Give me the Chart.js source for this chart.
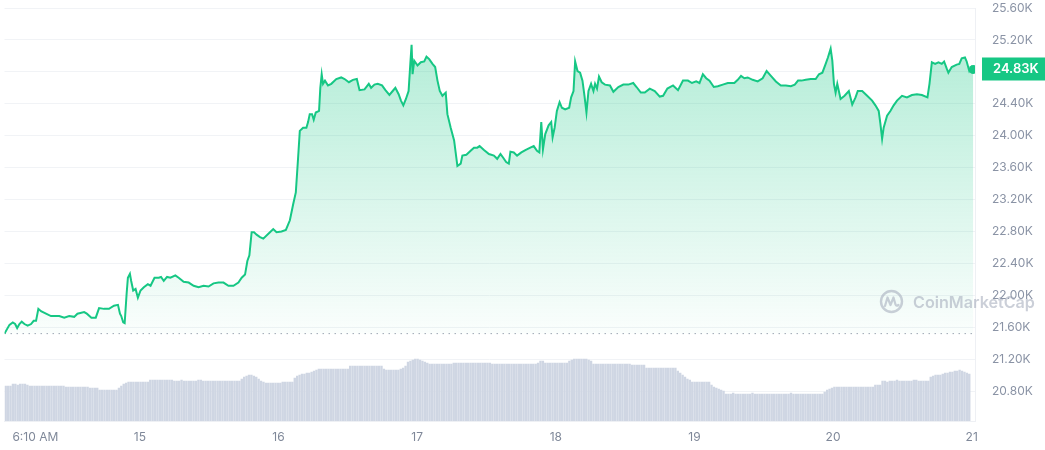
<!DOCTYPE html>
<html><head><meta charset="utf-8">
<script src="https://cdn.jsdelivr.net/npm/chart.js@4.4.1/dist/chart.umd.min.js"></script>
<style>html,body{margin:0;padding:0;background:#fff;}canvas{display:block;}</style>
</head><body>
<canvas id="c" width="1045" height="450"></canvas>
<script>
// Time of each price sample, in hours since the first sample
const hours = [
0,0.86,1.43,1.84,2.19,2.58,2.98,3.45,4.01,4.6,
5.05,5.46,5.86,6.32,7.18,8.05,8.62,9.48,10.34,11.2,
12.06,12.63,13.78,14.25,15.04,15.8,16.37,17.23,18.09,18.95,
19.64,19.99,20.21,20.55,20.8,21.14,21.36,21.71,21.93,22.28,
22.69,23.09,23.55,24.12,24.81,25.28,25.97,26.71,27.1,27.57,
28.14,28.72,29.58,30.15,31.01,31.88,32.74,33.6,34.46,35.32,
36.18,37.04,37.91,38.77,39.63,40.49,41.06,41.64,42.04,42.39,
42.78,43.2,43.64,44.23,44.8,45.95,46.52,47.09,47.95,48.71,
49.4,49.97,50.43,50.83,51.12,51.69,52.26,52.55,52.84,53.24,
53.53,53.88,54.45,54.67,54.91,55.14,55.48,56.0,56.57,57.43,
58.29,58.87,59.62,60.31,60.99,61.46,62.32,63.06,63.46,64.04,
64.61,65.35,65.94,66.63,67.2,67.66,68.23,68.63,69.04,69.49,
69.95,70.25,70.47,70.64,70.93,71.5,72.07,72.66,73.05,73.52,
74.09,74.55,74.95,75.35,75.81,76.38,76.67,77.24,77.83,78.4,
78.97,79.26,79.95,80.69,81.27,81.84,82.24,83.0,83.86,84.72,
85.29,85.86,86.27,86.84,87.3,87.58,88.16,88.73,89.47,90.16,
91.03,91.61,92.18,92.58,92.92,93.21,93.61,94.19,94.64,94.88,
95.23,95.62,96.09,96.49,97.05,97.75,98.09,98.5,98.78,99.19,
99.64,100.05,100.4,100.74,101.09,101.54,101.95,102.23,102.57,102.91,
103.38,103.95,104.81,105.4,106.26,107.12,107.98,108.84,109.41,110.15,
110.84,111.7,112.56,113.43,114.01,114.75,115.73,116.59,117.45,118.31,
119.0,119.74,120.31,120.89,121.47,122.04,122.79,123.48,124.34,125.21,
126.34,126.93,127.5,128.07,128.65,129.51,130.38,131.24,131.93,132.67,
133.53,134.39,135.26,136.12,136.8,137.37,137.96,138.7,139.56,140.42,
140.99,141.58,142.15,142.54,143.01,143.3,143.58,143.87,144.16,144.73,
145.42,146.16,146.75,147.32,147.71,148.47,149.33,150.19,150.76,151.33,
151.62,151.92,152.19,152.78,153.35,153.92,154.5,155.36,156.22,157.08,
157.95,158.81,159.77,160.12,160.53,161.1,161.67,162.25,162.65,163.11,
163.39,163.97,164.83,165.28,165.7,166.26,166.56,167.01,167.42,167.7
];
// Price in thousands of USD
const prices = [
21.52,21.63,21.66,21.64,21.59,21.64,21.67,21.64,21.62,21.64,
21.68,21.68,21.83,21.80,21.77,21.74,21.74,21.74,21.72,21.74,
21.73,21.77,21.79,21.77,21.72,21.72,21.84,21.83,21.83,21.87,
21.88,21.77,21.74,21.66,21.65,22.02,22.22,22.27,22.18,22.06,
22.08,21.97,22.06,22.10,22.14,22.12,22.22,22.22,22.23,22.18,
22.23,22.22,22.25,22.22,22.17,22.16,22.12,22.10,22.12,22.11,
22.15,22.16,22.16,22.12,22.12,22.16,22.22,22.26,22.43,22.50,
22.79,22.79,22.76,22.73,22.71,22.79,22.83,22.79,22.80,22.82,
22.94,23.14,23.29,23.73,24.06,24.10,24.10,24.17,24.27,24.27,
24.20,24.29,24.31,24.60,24.77,24.65,24.69,24.63,24.65,24.71,
24.73,24.71,24.67,24.70,24.71,24.57,24.58,24.65,24.60,24.64,
24.65,24.63,24.57,24.51,24.56,24.60,24.52,24.44,24.38,24.46,
24.56,24.90,25.14,24.77,24.94,24.88,24.92,24.93,24.99,24.96,
24.90,24.86,24.69,24.56,24.50,24.54,24.27,24.10,23.94,23.62,
23.65,23.75,23.76,23.81,23.85,23.85,23.87,23.82,23.77,23.75,
23.71,23.77,23.73,23.67,23.65,23.80,23.79,23.75,23.79,23.82,
23.85,23.87,23.81,23.79,24.17,23.83,24.02,24.13,24.17,23.98,
24.10,24.31,24.42,24.35,24.33,24.35,24.48,24.56,24.93,24.81,
24.79,24.69,24.50,24.29,24.56,24.65,24.56,24.65,24.59,24.74,
24.67,24.64,24.63,24.55,24.61,24.64,24.64,24.66,24.61,24.54,
24.54,24.59,24.56,24.49,24.50,24.59,24.63,24.57,24.69,24.69,
24.66,24.68,24.66,24.77,24.72,24.69,24.61,24.62,24.64,24.66,
24.66,24.70,24.75,24.72,24.73,24.70,24.68,24.72,24.81,24.75,
24.68,24.63,24.63,24.62,24.64,24.69,24.69,24.70,24.71,24.71,
24.77,24.79,24.90,24.98,25.09,24.94,24.65,24.54,24.65,24.46,
24.50,24.56,24.39,24.48,24.56,24.56,24.50,24.44,24.38,24.31,
24.15,23.96,24.10,24.25,24.31,24.38,24.44,24.50,24.48,24.51,
24.52,24.51,24.48,24.65,24.92,24.90,24.92,24.90,24.93,24.84,
24.79,24.86,24.89,24.90,24.97,24.98,24.93,24.81,24.86,24.83
];
// Volume bars (relative units), one bar per interval
const volumes = [
35,35,35,37,37,36,37,37,37,36,35,35,35,35,35,35,35,35,35,35,35,35,35,35,35,
34,34,34,34,34,34,34,34,34,34,33,33,33,33,31,31,31,31,31,31,31,31,
33,35,37,38,39,39,39,39,39,39,39,39,39,
41,41,41,41,41,41,41,41,41,41,
40,40,40,41,40,40,40,40,40,40,41,41,40,40,40,40,40,40,40,40,40,40,40,40,40,40,40,40,
42,44,45,46,46,45,44,42,40,39,
38,38,38,38,38,38,38,39,39,39,39,39,
43,45,46,47,47,48,48,49,50,51,
52,52,52,52,52,52,52,52,52,52,52,52,52,
55,55,55,55,55,55,55,55,55,55,55,55,55,55,
52,51,51,51,51,51,51,52,53,55,
59,60,61,62,62,61,60,59,58,57,
57,57,57,57,57,57,57,57,57,
58,58,58,58,58,58,58,58,58,58,58,58,58,58,58,58,
57,57,57,57,57,57,57,57,57,57,57,57,57,57,57,57,57,57,57,
58,60,60,58,58,58,58,58,58,58,58,58,58,
60,61,62,62,62,62,62,62,61,60,
57,57,57,57,57,57,57,57,57,57,57,57,57,57,57,57,
56,56,56,56,56,56,
53,53,53,53,53,53,53,53,53,53,53,53,53,
50,48,46,44,42,41,
39,39,39,39,39,39,39,39,
36,34,33,32,31,30,
27,27,27,28,27,27,27,27,27,27,27,28,27,27,27,27,27,27,27,27,27,
27,27,27,27,27,27,28,27,27,27,27,27,27,27,27,27,27,27,27,27,
29,31,32,33,
34,34,34,34,34,34,34,34,34,34,34,34,34,34,34,34,34,
36,36,36,
40,40,39,40,40,40,41,40,40,40,40,40,40,41,41,40,40,40,40,40,
44,45,46,46,46,47,48,
48,49,49,50,50,51,50,49,48,47
];
const volumeStepHours = 0.417;
const xTickHours = [5.34, 23.43, 47.43, 71.43, 95.43, 119.43, 143.43, 167.43];
const xTickLabels = ['6:10 AM', '15', '16', '17', '18', '19', '20', '21'];
const yTickValues = [20.8, 21.2, 21.6, 22.0, 22.4, 22.8, 23.2, 23.6, 24.0, 24.4, 24.8, 25.2, 25.6];

const GREEN = '#16c784';
const openPrice = prices[0];
const lastPrice = prices[prices.length - 1];
const FONT = 'Inter, "Noto Sans", sans-serif';

const overlay = {
  id: 'overlay',
  afterDraw(chart) {
    const ctx = chart.ctx;
    const y = chart.scales.y.getPixelForValue(lastPrice);
    // current price box
    ctx.save();
    ctx.fillStyle = GREEN;
    ctx.fillRect(982, Math.round(y) - 11.5, 63, 23);
    ctx.fillStyle = '#ffffff';
    ctx.font = '600 13px ' + FONT;
    ctx.textBaseline = 'middle';
    ctx.textAlign = 'left';
    ctx.fillText(lastPrice.toFixed(2) + 'K', 993, Math.round(y) + 0.5);
    // watermark
    const wm = 'rgba(160,168,184,0.55)';
    ctx.strokeStyle = wm;
    ctx.lineWidth = 2.4;
    ctx.beginPath();
    ctx.arc(891.5, 301.5, 10.5, 0, Math.PI * 2);
    ctx.stroke();
    ctx.lineWidth = 2.2;
    ctx.lineJoin = 'round';
    ctx.lineCap = 'round';
    ctx.beginPath();
    ctx.moveTo(885, 306);
    ctx.lineTo(887.5, 297.5);
    ctx.lineTo(890.5, 305);
    ctx.lineTo(893.5, 297.5);
    ctx.lineTo(895.5, 304.5);
    ctx.quadraticCurveTo(896.5, 306.5, 898.5, 305);
    ctx.stroke();
    ctx.fillStyle = wm;
    ctx.font = '600 17px ' + FONT;
    ctx.textBaseline = 'alphabetic';
    const w = ctx.measureText('CoinMarketCap').width;
    const size = 17 * 122 / w;
    ctx.font = '600 ' + size.toFixed(2) + 'px ' + FONT;
    ctx.fillText('CoinMarketCap', 913, 308);
    ctx.restore();
  }
};

const chart = new Chart(document.getElementById('c'), {
  type: 'line',
  data: {
    datasets: [
      {
        type: 'line',
        data: hours.map((h, i) => ({ x: h, y: prices[i] })),
        borderColor: GREEN,
        borderWidth: 2,
        tension: 0,
        pointRadius: (c) => c.dataIndex === prices.length - 1 ? 4.5 : 0,
        pointBackgroundColor: GREEN,
        pointBorderWidth: 0,
        fill: { value: openPrice },
        backgroundColor: (c) => {
          const ch = c.chart;
          const a = ch.chartArea;
          if (!a) return 'rgba(22,199,132,0.15)';
          const yb = ch.scales.y.getPixelForValue(openPrice);
          const g = ch.ctx.createLinearGradient(0, a.top, 0, yb);
          g.addColorStop(0, 'rgba(22,199,132,0.36)');
          g.addColorStop(1, 'rgba(22,199,132,0.02)');
          return g;
        },
        yAxisID: 'y',
        order: 0
      },
      {
        type: 'line',
        data: [{ x: 0, y: openPrice }, { x: 168, y: openPrice }],
        borderColor: 'rgba(120,130,150,0.7)',
        borderWidth: 1,
        borderDash: [1.5, 4.5],
        pointRadius: 0,
        fill: false,
        yAxisID: 'y',
        order: 1
      },
      {
        type: 'bar',
        data: volumes.map((v, i) => ({ x: (i + 0.5) * volumeStepHours, y: v })),
        backgroundColor: '#cfd6e3',
        borderWidth: 0,
        barThickness: 1.7,
        grouped: false,
        yAxisID: 'yv',
        order: 2
      }
    ]
  },
  options: {
    responsive: false,
    animation: false,
    devicePixelRatio: 1,
    layout: { padding: { top: 8, right: 0, bottom: 0, left: 0 } },
    plugins: { legend: { display: false }, tooltip: { enabled: false } },
    scales: {
      x: {
        type: 'linear',
        min: 0,
        max: 168,
        offset: false,
        grid: { display: false, drawTicks: false },
        border: { display: true, color: '#eef0f4' },
        afterBuildTicks: (s) => { s.ticks = xTickHours.map(v => ({ value: v })); },
        afterFit: (s) => { s.height = 29; s.paddingLeft = 0; s.paddingRight = 0; },
        ticks: {
          autoSkip: false,
          maxRotation: 0,
          padding: 9,
          color: '#7f8899',
          font: { family: FONT, size: 12 },
          callback: (v, i) => xTickLabels[i]
        }
      },
      y: {
        position: 'right',
        min: 20.425,
        max: 25.6,
        grid: { color: '#f1f3f6', drawTicks: false },
        border: { display: true, color: '#eef0f4' },
        afterBuildTicks: (s) => { s.ticks = yTickValues.map(v => ({ value: v })); },
        afterFit: (s) => { s.width = 70; s.paddingTop = 6; s.paddingBottom = 6; },
        ticks: {
          padding: 17,
          color: '#8a93a5',
          font: { family: FONT, size: 12 },
          callback: (v) => Math.abs(v - lastPrice) < 0.2 ? '' : v.toFixed(2) + 'K'
        }
      },
      yv: {
        display: false,
        min: 0,
        max: 413
      }
    }
  },
  plugins: [overlay]
});
</script>
</body></html>
